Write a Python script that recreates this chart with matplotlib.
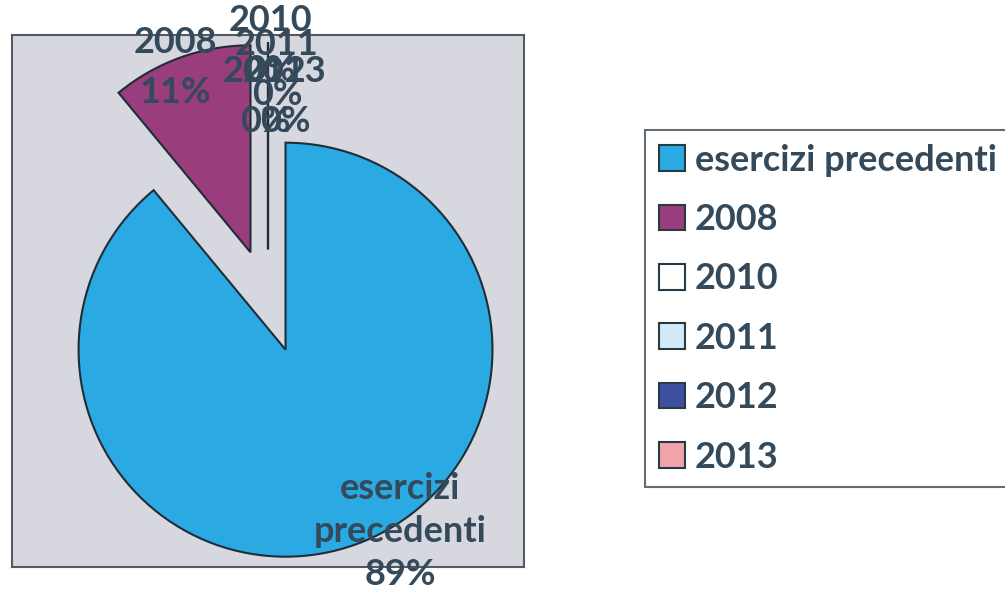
import matplotlib.pyplot as plt
from matplotlib.patches import Patch

# share of residui by year of origin
categories = ['esercizi precedenti', '2008', '2010', '2011', '2012', '2013']
values = [89, 11, 0, 0, 0, 0]
colors = ['#2aa9e3', '#993d7c', '#ffffff', '#d3e9f8', '#3d4f9e', '#f0a3ab']

# hand placed label centres, in pie units (radius = 1)
label_pos = [(0.638, -1.112), (-0.449, 1.128), (0.01, 1.234), (0.043, 1.118),
             (-0.015, 0.988), (0.082, 0.988)]
label_space = [1.37, 1.6, 1.6, 1.6, 1.6, 1.6]

txt_color = '#34495a'
plt.rcParams['font.family'] = ['Lato', 'DejaVu Sans']
fsize = 26

fig = plt.figure(figsize=(10.05, 5.97), dpi=100)
W, H = 1005, 597

# grey plot area
ax = fig.add_axes([12 / W, 1 - 567 / H, 512 / W, 532 / H])

wedges, _ = ax.pie(values, colors=colors, explode=[0.25] * len(values),
                   startangle=90, counterclock=False, radius=1,
                   wedgeprops=dict(edgecolor='#1e2d38', linewidth=1.5))
ax.set_frame_on(True)
ax.set_facecolor('#d7d7df')
for s in ax.spines.values():
    s.set_color('#555a60')
    s.set_linewidth(1.5)
ax.set_xticks([])
ax.set_yticks([])
ax.set_xlim(-1.237, 1.237)
ax.set_ylim(-1.285, 1.285)
ax.set_aspect('auto')

total = sum(values)
for cat, v, (x, y), sp in zip(categories, values, label_pos, label_space):
    name = cat.replace(' ', '\n')
    ax.text(x, y, f'{name}\n{v / total * 100:.0f}%', ha='center', va='center',
            fontsize=fsize, fontweight='bold', color=txt_color,
            linespacing=sp, clip_on=False)

handles = [Patch(facecolor=c, edgecolor='#2a3a45', linewidth=1.5) for c in colors]
leg = fig.legend(handles, categories, loc='upper left',
                 bbox_to_anchor=(645 / W, 1 - 130 / H),
                 prop=dict(size=fsize, weight='bold'), frameon=True, fancybox=False,
                 handlelength=0.72, handleheight=0.72, handletextpad=0.28,
                 labelspacing=0.73, borderpad=0.38, borderaxespad=0)
leg.get_frame().set_edgecolor('#3a4a55')
leg.get_frame().set_linewidth(1.5)
for t in leg.get_texts():
    t.set_color(txt_color)

fig.savefig('out.png', dpi=100)
